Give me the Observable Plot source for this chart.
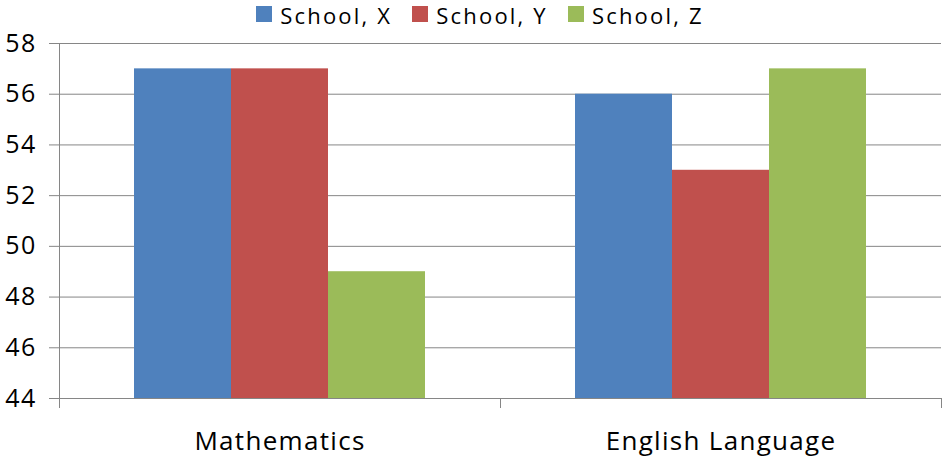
<!DOCTYPE html>
<html>
<head>
<meta charset="utf-8">
<script src="https://cdn.jsdelivr.net/npm/d3@7"></script>
<script src="https://cdn.jsdelivr.net/npm/@observablehq/plot@0.6"></script>
<style>
  html, body { margin: 0; padding: 0; background: #fff; }
  body { width: 944px; height: 458px; overflow: hidden; font-family: "Open Sans", sans-serif; position: relative; }
  #legend { position: absolute; left: 0; top: 0; width: 944px; height: 30px; display: flex; justify-content: center; align-items: flex-start; padding-left: 16px; box-sizing: border-box; z-index: 2; }
  .item { display: flex; align-items: flex-start; margin: 0 10px; font-size: 22px; letter-spacing: 2.2px; color: #000; line-height: normal; }
  .sw { width: 16px; height: 16px; margin-right: 8px; margin-top: 6px; }
  svg { display: block; }
  svg text { letter-spacing: 1.3px; }
</style>
</head>
<body>
<div id="chart"></div>
<div id="legend"></div>
<script>
const subjects = ["Mathematics", "English Language"];
const schools = ["School, X", "School, Y", "School, Z"];
const mathScores = [57, 57, 49];
const englishScores = [56, 53, 57];
const yTicks = [44, 46, 48, 50, 52, 54, 56, 58];
const colors = ["#4F81BD", "#C0504D", "#9BBB59"];

const scoresBySubject = [mathScores, englishScores];
const data = subjects.flatMap((s, i) => schools.map((sc, j) => ({subject: s, school: sc, value: scoresBySubject[i][j]})));
const yMin = yTicks[0], yMax = yTicks[yTicks.length - 1];
const gray = "#868686";

const legend = d3.select("#legend");
schools.forEach((s, i) => {
  const it = legend.append("div").attr("class", "item");
  it.append("div").attr("class", "sw").style("background", colors[i]);
  it.append("span").text(s);
});

const chart = Plot.plot({
  width: 944,
  height: 458,
  marginTop: 43,
  marginBottom: 60,
  marginLeft: 58,
  marginRight: 3,
  style: {fontFamily: "Open Sans, sans-serif", background: "#fff", color: "#000"},
  fx: {domain: subjects, padding: 0, label: null, axis: null},
  x: {domain: schools, paddingInner: 0, paddingOuter: 0.773, axis: null},
  y: {domain: [yMin, yMax], axis: null},
  color: {domain: schools, range: colors},
  marks: [
    Plot.gridY(yTicks, {stroke: gray, strokeOpacity: 1, strokeWidth: 1}),
    Plot.barY(data, {fx: "subject", x: "school", y1: yMin, y2: "value", fill: "school"}),
    Plot.axisY(yTicks, {tickSize: 10, tickPadding: 13, fontSize: 25, label: null, stroke: gray, fill: "#000", tickFormat: d => String(d)}),
    Plot.axisFx({anchor: "bottom", tickSize: 0, tickPadding: 33, fontSize: 26, label: null, fill: "#000"})
  ]
});

document.getElementById("chart").appendChild(chart);

// Axis lines and category boundary ticks derived from Plot's own scales
const fx = chart.scale("fx");
const y = chart.scale("y");
const svg = d3.select(chart);
const bounds = subjects.map(s => fx.apply(s)).concat([fx.apply(subjects[subjects.length - 1]) + fx.bandwidth]);
const y0 = y.apply(yMin), y1 = y.apply(yMax);
const g = svg.append("g").attr("stroke", gray).attr("stroke-width", 1);
g.append("line").attr("x1", bounds[0] + 0.5).attr("x2", bounds[0] + 0.5).attr("y1", y1).attr("y2", y0);
bounds.forEach(b => {
  const bx = Math.min(b, 944 - 1.5) + 0.5;
  g.append("line").attr("x1", bx).attr("x2", bx).attr("y1", y0).attr("y2", y0 + 10);
});
</script>
</body>
</html>
